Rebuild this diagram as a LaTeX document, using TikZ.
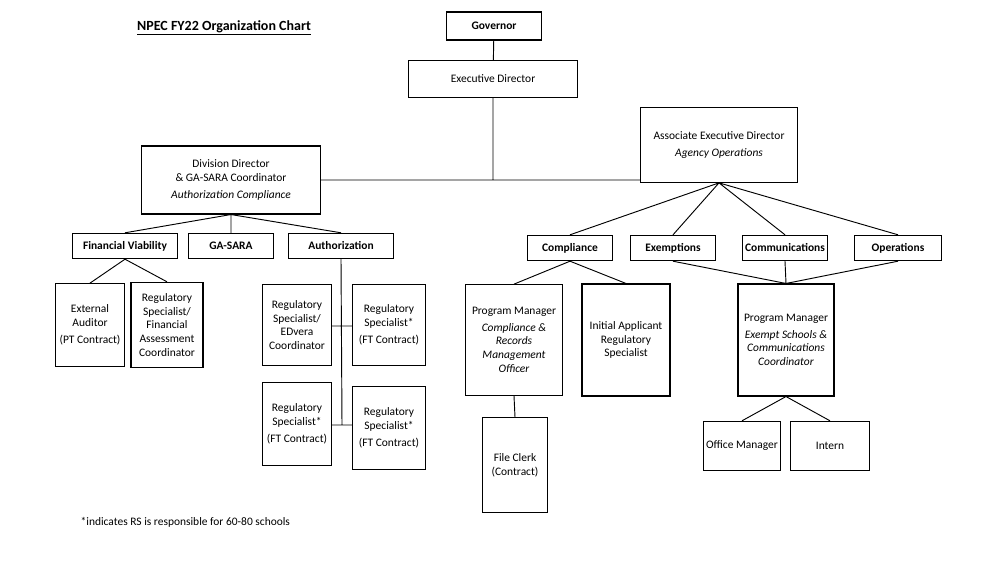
\documentclass[tikz,border=0pt]{standalone}
\usepackage{fontspec}
\setmainfont{Carlito}
\tikzset{
  box/.style={draw,line width=0.8pt,align=center,inner sep=1pt,font=\fontsize{8.6}{10.4}\selectfont},
  unit/.style={box,font=\fontsize{8.6}{10.4}\selectfont\bfseries,minimum height=19pt},
  wire/.style={draw,line width=0.7pt}
}
\begin{document}
\begin{tikzpicture}[x=0.75pt,y=-0.75pt]
  \useasboundingbox (0,0) rectangle (1000,563);

  \node[font=\fontsize{10.5}{12}\selectfont\bfseries] (title) at (224,28) {\underline{NPEC FY22 Organization Chart}};
  \node[font=\fontsize{8.6}{10}\selectfont,anchor=west] (note) at (76,522) {*indicates RS is responsible for 60-80 schools};

  \node[unit,minimum width=71pt,minimum height=21pt] (gov) at (494,26) {Governor};
  \node[box,minimum width=127pt,minimum height=28pt] (exd) at (493,79) {Executive Director};
  \node[box,minimum width=118pt,minimum height=56pt] (aed) at (719,145) {Associate Executive Director\\[2pt]\textit{Agency Operations}};
  \node[box,minimum width=134pt,minimum height=51pt] (div) at (231,180) {Division Director\\\& GA-SARA Coordinator\\[2pt]\textit{Authorization Compliance}};

  \node[unit,minimum width=79pt] (fin) at (125,246) {Financial Viability};
  \node[unit,minimum width=64pt] (gas) at (231,246) {GA-SARA};
  \node[unit,minimum width=79pt] (aut) at (341,246) {Authorization};

  \node[box,minimum width=52pt,minimum height=62pt] (ext) at (90,325) {External\\Auditor\\[2pt](PT Contract)};
  \node[box,minimum width=54pt,minimum height=64pt] (rsf) at (167,325) {Regulatory\\Specialist/\\Financial\\Assessment\\Coordinator};

  \node[box,minimum width=52pt,minimum height=61pt] (rse) at (297,325) {Regulatory\\Specialist/\\EDvera\\Coordinator};
  \node[box,minimum width=55pt,minimum height=61pt] (rs1) at (389,325) {Regulatory\\Specialist*\\[2pt](FT Contract)};
  \node[box,minimum width=52pt,minimum height=62pt] (rs2) at (297,424) {Regulatory\\Specialist*\\[2pt](FT Contract)};
  \node[box,minimum width=55pt,minimum height=62pt] (rs3) at (389,428) {Regulatory\\Specialist*\\[2pt](FT Contract)};

  \node[unit,minimum width=64pt] (cmp) at (570,248) {Compliance};
  \node[unit,minimum width=64pt] (exm) at (673,248) {Exemptions};
  \node[unit,minimum width=64pt] (com) at (785,248) {Communications};
  \node[unit,minimum width=65pt] (ops) at (898,248) {Operations};

  \node[box,minimum width=73pt,minimum height=83pt] (pmc) at (514,340) {Program Manager\\[2pt]\textit{Compliance \&}\\\textit{Records}\\\textit{Management}\\\textit{Officer}};
  \node[box,minimum width=66pt,minimum height=84pt] (iar) at (626,340) {Initial Applicant\\Regulatory\\Specialist};
  \node[box,minimum width=49pt,minimum height=71pt] (fcl) at (515,465) {File Clerk\\(Contract)};

  \node[box,minimum width=72pt,minimum height=84pt] (pme) at (786,340) {Program Manager\\[2pt]\textit{Exempt Schools \&}\\\textit{Communications}\\\textit{Coordinator}};
  \node[box,minimum width=58pt,minimum height=37pt] (ofm) at (742,446) {Office Manager};
  \node[box,minimum width=59pt,minimum height=37pt] (int) at (830,446) {Intern};

  \coordinate (j1) at (493,180);
  \coordinate (j2) at (342,326);
  \coordinate (j3) at (342,425);

  \draw[wire]
    (gov) -- (exd)
    (exd) -- (j1)
    (div.east |- j1) -- (aed.west |- j1)
    (div.south) -- (fin.north)
    (div.south) -- (gas.north)
    (div.south) -- (aut.north)
    (fin.south) -- (ext.north)
    (fin.south) -- (rsf.north)
    (aut.south) -- (j3)
    (rse.east |- j2) -- (rs1.west |- j2)
    (rs2.east |- j3) -- (rs3.west |- j3)
    (aed.south) -- (cmp.north)
    (aed.south) -- (exm.north)
    (aed.south) -- (com.north)
    (aed.south) -- (ops.north)
    (cmp.south) -- (pmc.north)
    (cmp.south) -- (iar.north)
    (pmc.south) -- (fcl.north)
    (exm.south) -- (pme.north)
    (com.south) -- (pme.north)
    (ops.south) -- (pme.north)
    (pme.south) -- (ofm.north)
    (pme.south) -- (int.north)
    ;
\end{tikzpicture}
\end{document}
